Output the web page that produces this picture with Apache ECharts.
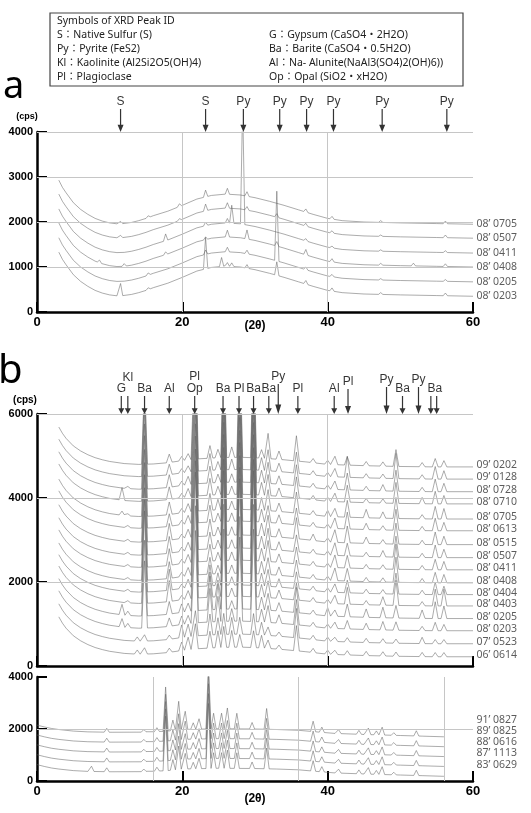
<!DOCTYPE html>
<html>
<head>
<meta charset="utf-8">
<title>XRD patterns</title>
<script src="https://cdn.jsdelivr.net/npm/echarts@6.0.0/dist/echarts.min.js"></script>
<style>
  html, body { margin: 0; padding: 0; background: #fff; }
  #main { width: 531px; height: 813px; }
</style>
</head>
<body>
<div id="main"></div>
<script>
// ---------- panel a : 6 patterns, 0-4000 cps ----------
const aNames = ['08’ 0705', '08’ 0507', '08’ 0411', '08’ 0408', '08’ 0205', '08’ 0203'];
const aLabelY = [1955, 1645, 1310, 1000, 665, 355];
const aOffsets = [1950, 1640, 1310, 1000, 670, 350];
// background shape (2θ, cps above the trace end)
const aBase = [[3, 980], [3.5, 820], [4, 700], [5, 480], [6, 330], [7, 220], [8, 130], [9, 70], [10, 30], [11, 10],
  [12, 15], [13, 40], [14, 80], [15, 130], [16, 190], [18, 290], [20, 420], [22, 560], [24, 640], [26, 670],
  [28, 650], [30, 590], [32, 510], [34, 420], [36, 320], [38, 220], [40, 130], [42, 80], [45, 50], [50, 30],
  [55, 15], [60, 0]];
const aPeakPos = [8.6, 11.5, 12.0, 15.3, 17.7, 19.6, 23.2, 25.4, 26.2, 26.8, 28.3, 28.9, 33.0, 37.0, 40.6, 47.3, 51.8, 56.2];
const aPeakH = [ // cps
  [0, 50, 0, 40, 0, 60, 150, 0, 130, 0, 0, 100, 0, 70, 60, 40, 0, 60],
  [0, 50, 0, 0, 0, 40, 150, 0, 120, 0, 0, 80, 80, 60, 50, 30, 0, 60],
  [0, 0, 0, 0, 150, 0, 80, 0, 100, 400, 2700, 0, 0, 50, 40, 30, 0, 40],
  [60, 0, 60, 0, 60, 0, 60, 0, 150, 0, 0, 200, 100, 120, 70, 40, 60, 60],
  [0, 0, 0, 50, 0, 0, 100, 0, 100, 0, 0, 80, 1550, 60, 50, 30, 0, 40],
  [0, 270, 0, 40, 0, 0, 700, 200, 80, 80, 0, 80, 300, 80, 70, 40, 0, 60]
];
const aArrowPos = [11.5, 23.2, 28.4, 33.4, 37.1, 40.8, 47.5, 56.4];
const aArrowText = ['S', 'S', 'Py', 'Py', 'Py', 'Py', 'Py', 'Py'];

// ---------- panel b (upper) : 16 patterns, 0-6000 cps ----------
const bNames = ['09’ 0202', '09’ 0128', '08’ 0728', '08’ 0710', '08’ 0705', '08’ 0613', '08’ 0515', '08’ 0507',
  '08’ 0411', '08’ 0408', '08’ 0404', '08’ 0403', '08’ 0205', '08’ 0203', '07’ 0523', '06’ 0614'];
const bLabelY = [4786, 4500, 4190, 3905, 3548, 3262, 2929, 2619, 2333, 2024, 1738, 1476, 1167, 881, 571, 262];
const bOffsets = [4740, 4450, 4150, 3860, 3500, 3220, 2890, 2580, 2290, 1980, 1700, 1430, 1130, 840, 530, 220];
const bBase = [[3, 950], [3.5, 800], [4, 680], [5, 500], [6, 380], [7, 290], [8, 220], [9, 170], [10, 130],
  [12, 80], [14, 60], [16, 70], [18, 100], [20, 150], [22, 190], [25, 220], [28, 230], [31, 210], [34, 170],
  [37, 120], [40, 60], [45, 30], [50, 10], [55, 0], [60, 0]];
const bPeakPos = [11.7, 12.5, 13.8, 14.8, 18.2, 19.9, 20.8, 21.8, 23.8, 24.9, 25.7, 26.8, 27.9, 29.8,
  30.9, 31.8, 33.3, 35.7, 38.0, 40.0, 41.0, 42.7, 45.3, 47.6, 49.4, 53.0, 54.8, 56.0];
const bPeakH = [ // x100 cps
  [0, 0, 0, 20, 2, 1, 1.5, 30, 3, 2, 30, 2.5, 28, 30, 2, 6, 2, 6, 1, 1, 2, 2, 1, 1, 4, 1, 2, 1.5],
  [0, 0, 0, 22, 2.5, 1, 1.5, 30, 4, 2, 30, 2.5, 28, 30, 3, 5, 2, 5, 1, 1, 2, 5, 1, 1, 6, 1, 3, 2],
  [0, 0.5, 0, 22, 3, 1, 2, 30, 4, 2, 30, 2, 28, 30, 3, 5, 2, 5, 1, 1, 2, 4, 1, 1.5, 5, 1, 3, 2],
  [3, 0, 0, 22, 3, 1, 2, 30, 4, 2, 30, 2, 28, 30, 3, 5, 2, 5, 1, 1, 2, 4, 1, 1, 5, 1.5, 3, 2],
  [1, 0.5, 0, 22, 3, 1, 2, 30, 4, 2.5, 30, 2, 28, 30, 3, 5, 2, 5, 1, 1.5, 2, 4, 2, 1.5, 5, 1, 3, 2.5],
  [0, 0.5, 0, 22, 3, 1, 2, 30, 4, 2, 30, 2, 28, 30, 3, 4, 2, 4, 1, 1, 2.5, 4, 1.5, 1, 5, 1, 3, 2],
  [0, 0.5, 0, 22, 4, 1, 2, 30, 4, 2, 30, 2, 28, 30, 3, 5, 2, 5, 1.5, 1, 3, 4, 1.5, 1, 5, 1, 3, 2],
  [0, 0.5, 0, 22, 4, 1, 2, 30, 4, 2, 30, 2, 28, 30, 3, 5, 2, 4, 1, 1, 3, 3, 1, 1.5, 5, 1, 3, 2],
  [0, 0.5, 0, 22, 4, 1, 2, 30, 4, 2, 30, 2, 28, 30, 3, 5, 2, 4, 1, 1, 3, 3, 1, 1, 6, 1, 2.5, 2],
  [0, 0.5, 0, 22, 4, 1, 2, 30, 4, 2, 30, 2, 28, 30, 3, 4, 2, 4, 1, 1, 3, 3, 1, 1, 6, 1, 2.5, 2],
  [0, 0.5, 0, 22, 5, 1, 2, 30, 5, 3, 30, 2, 28, 30, 3, 4, 2, 4, 1, 1, 2, 3, 1, 1, 5, 1, 3, 2],
  [0, 0.5, 0, 22, 5, 1, 2, 30, 6, 4, 30, 2, 28, 30, 3, 4, 2, 4, 1, 1, 2, 4, 1, 2, 6, 1, 4, 4],
  [2.5, 1, 0, 18, 3, 2, 2, 25, 8, 6, 25, 2, 22, 25, 3, 4, 2, 6, 1, 2, 1.5, 3, 2, 2.5, 3, 2, 4, 3],
  [2, 1, 0, 16, 2, 2, 2, 22, 8, 6, 22, 3, 20, 22, 3, 4, 2, 6, 1, 1, 1.5, 2, 1.5, 2, 2, 1, 2, 1.5],
  [0, 0, 1, 1.5, 1, 3, 3, 6, 5, 4, 5, 4, 4, 5, 3, 2, 1, 7, 1, 1, 1, 1, 1, 1, 1, 1.5, 1, 1],
  [0, 0, 1, 1.5, 1, 2, 3, 6, 4, 4, 5, 4, 3, 4, 3, 2, 1, 6, 1, 1, 1, 1, 1, 1, 1, 1, 1, 1]
];
const bArrowPos = [11.6, 12.5, 14.8, 18.2, 21.7, 25.6, 27.8, 29.8, 31.9, 33.2, 35.9, 40.9, 42.8, 48.1, 50.3, 52.5, 54.2, 55.0];
const bArrowText = ['G', 'Kl', 'Ba', 'Al', 'Pl\nOp', 'Ba', 'Pl', 'Ba', 'Ba', 'Py', 'Pl', 'Al', 'Pl', 'Py', 'Ba', 'Py', 'Ba', ''];

// ---------- panel b (lower) : 5 older patterns, 0-4000 cps ----------
const cNames = ['91’ 0827', '89’ 0825', '88’ 0616', '87’ 1113', '83’ 0629'];
const cLabelY = [2346, 1923, 1500, 1077, 615];
const cOffsets = [1700, 1320, 940, 560, 180];
const cBase = [[0, 450], [1, 380], [2, 320], [3, 280], [5, 220], [7, 190], [10, 175], [15, 180], [18, 220],
  [20, 280], [25, 310], [30, 300], [33, 280], [36, 250], [38, 200], [41, 130], [45, 90], [50, 50], [53, 25], [56, 0]];
const cPeakPos = [7.5, 9.6, 14.7, 16.5, 17.7, 18.7, 19.5, 20.4, 21.5, 22.3, 23.6, 24.3, 25.4, 26.2, 27.5,
  29.6, 31.6, 38.0, 39.2, 41.5, 44.3, 45.6, 46.7, 47.5, 49.1, 52.2];
const cPeakH = [ // x100 cps
  [0, 1.5, 1, 1.5, 17, 4, 11, 7, 2.5, 4, 25, 6, 6, 8, 6, 2.5, 8, 4, 2, 1.5, 1.5, 2.5, 1.5, 3, 1, 2],
  [0, 1.5, 1, 1.5, 18, 4, 10, 7, 2.5, 4, 25, 6, 6, 7, 6, 2.5, 8, 4, 2, 1.5, 1.5, 2.5, 1.5, 3, 1, 2],
  [0, 1.5, 1, 1.5, 19, 4, 10, 6, 2.5, 4, 25, 6, 6, 7, 6, 2.5, 8, 4, 2, 1.5, 1.5, 2.5, 1.5, 3, 1, 2],
  [0, 1.5, 1, 1.5, 20, 4, 9, 6, 2.5, 4, 25, 6, 6, 7, 6, 2.5, 8, 4, 2, 1.5, 1.5, 2.5, 1.5, 3, 1, 2],
  [2, 1.5, 1, 1.5, 21, 4, 9, 6, 2.5, 4, 25, 6, 6, 7, 6, 2.5, 8, 4, 2, 1.5, 1.5, 2.5, 1.5, 3, 1, 2]
];
const cGridX = [16, 36, 56];

// ---------- helpers ----------
function baseAt(profile, x) {
  if (x <= profile[0][0]) return profile[0][1];
  for (let i = 1; i < profile.length; i++) {
    if (x <= profile[i][0]) {
      const [x0, y0] = profile[i - 1], [x1, y1] = profile[i];
      return y0 + (y1 - y0) * (x - x0) / (x1 - x0);
    }
  }
  return profile[profile.length - 1][1];
}

// trace = offset + background + triangular peaks (peak half width w)
function buildTrace(profile, offset, pos, heights, unit, w) {
  const lo = profile[0][0], hi = profile[profile.length - 1][0];
  const xs = new Set(profile.map(p => p[0]));
  pos.forEach((p, i) => {
    if (heights[i] > 0) [p - w, p, p + w].forEach(x => { if (x >= lo && x <= hi) xs.add(+x.toFixed(3)); });
  });
  return [...xs].sort((a, b) => a - b).map(x => {
    let v = offset + baseAt(profile, x);
    pos.forEach((p, i) => {
      const d = Math.abs(x - p);
      if (heights[i] > 0 && d < w) v += heights[i] * unit * (1 - d / w);
    });
    return [x, Math.round(v)];
  });
}

const lineColor = 'rgba(95,95,95,0.62)';
const arrowPath = 'path://M2.4,0 L3.6,0 L3.6,15 L6,15 L3,22 L0,15 L2.4,15 Z';

function xAxisFor(gi, showLabel) {
  return {
    type: 'value', gridIndex: gi, min: 0, max: 60, interval: 20,
    axisLine: { show: true, onZero: false, lineStyle: { color: '#000', width: 2.5 } },
    axisTick: { show: true, inside: true, length: 10, lineStyle: { color: '#000', width: 2 } },
    axisLabel: { show: showLabel, color: '#000', fontWeight: 'bold', fontSize: 13, fontFamily: 'Liberation Sans',
      margin: 4, formatter: v => String(v) },
    splitLine: { show: false }
  };
}
function yAxisFor(gi, max, interval) {
  return {
    type: 'value', gridIndex: gi, min: 0, max: max, interval: interval,
    axisLine: { show: true, onZero: false, lineStyle: { color: '#000', width: 2.5 } },
    axisTick: { show: true, inside: true, length: 10, lineStyle: { color: '#000', width: 2 } },
    axisLabel: { color: '#000', fontWeight: 'bold', fontSize: 11, fontFamily: 'Liberation Sans', margin: 4,
      formatter: v => String(v) },
    splitLine: { show: false }
  };
}

function gridLines(gi, marks) {
  return {
    type: 'line', xAxisIndex: gi, yAxisIndex: gi, data: [], silent: true,
    markLine: {
      silent: true, symbol: ['none', 'none'], label: { show: false }, animation: false,
      lineStyle: { color: '#c6c6c6', width: 1, type: 'solid' },
      data: marks
    }
  };
}

function traceSeries(gi, names, offsets, profile, pos, H, unit, w) {
  return names.map((n, k) => ({
    type: 'line', name: n, xAxisIndex: gi, yAxisIndex: gi,
    showSymbol: false, symbol: 'none', clip: true, silent: true,
    lineStyle: { color: lineColor, width: 0.85 },
    data: buildTrace(profile, offsets[k], pos, H[k], unit, w)
  }));
}

function nameSeries(gi, names, ys) {
  return {
    type: 'scatter', xAxisIndex: gi, yAxisIndex: gi, clip: false, silent: true,
    symbolSize: 1, itemStyle: { color: 'rgba(0,0,0,0)' },
    label: { show: true, position: 'right', distance: 3, formatter: '{b}', color: '#333',
      fontSize: 10.5, fontFamily: 'Noto Sans' },
    data: names.map((n, k) => ({ name: n, value: [60, ys[k]] }))
  };
}

function arrowSeries(gi, top, pos, text, lenFn, offFn) {
  return {
    type: 'scatter', xAxisIndex: gi, yAxisIndex: gi, clip: false, silent: true,
    symbol: arrowPath, itemStyle: { color: '#000' },
    label: { show: true, position: 'top', distance: 1, formatter: '{b}', color: '#000',
      fontSize: 12, lineHeight: 12, fontFamily: 'Liberation Sans' },
    data: pos.map((p, k) => ({
      name: text[k], value: [p, top],
      symbolSize: [6, lenFn(k)], symbolOffset: [0, '-50%'],
      label: { offset: offFn(k) }
    }))
  };
}

// ---------- chart ----------
const chart = echarts.init(document.getElementById('main'), null, { renderer: 'canvas' });

const legendFont = { fontSize: 10.5, fontFamily: '"Noto Sans", "Noto Sans CJK JP"', fill: '#222', verticalAlign: 'middle' };
const legendLeft = ['Symbols of XRD Peak ID', 'S：Native Sulfur (S)', 'Py：Pyrite (FeS2)', 'Kl：Kaolinite (Al2Si2O5(OH)4)', 'Pl：Plagioclase'];
const legendRight = ['G：Gypsum (CaSO4・2H2O)', 'Ba：Barite (CaSO4・0.5H2O)', 'Al：Na- Alunite(NaAl3(SO4)2(OH)6))', 'Op：Opal (SiO2・xH2O)'];

const graphic = [
  { type: 'rect', shape: { x: 50, y: 13, width: 413, height: 73 }, style: { fill: '#fff', stroke: '#444', lineWidth: 1.2 } }
];
legendLeft.forEach((t, i) => graphic.push({ type: 'text', x: 57, y: 21 + i * 14, style: Object.assign({ text: t }, legendFont) }));
legendRight.forEach((t, i) => graphic.push({ type: 'text', x: 269, y: 35 + i * 14, style: Object.assign({ text: t }, legendFont) }));
graphic.push(
  { type: 'text', x: 3, y: 106, style: { text: 'a', fontSize: 38, fontFamily: 'Noto Sans', fill: '#000', verticalAlign: 'bottom' } },
  { type: 'text', x: -2, y: 392, style: { text: 'b', fontSize: 40, fontFamily: 'Noto Sans', fill: '#000', verticalAlign: 'bottom' } },
  { type: 'text', x: 27, y: 117, style: { text: '(cps)', fontSize: 9, fontWeight: 'bold', fontFamily: 'Liberation Sans', fill: '#000', align: 'center', verticalAlign: 'middle' } },
  { type: 'text', x: 25, y: 400, style: { text: '(cps)', fontSize: 10, fontWeight: 'bold', fontFamily: 'Liberation Sans', fill: '#000', align: 'center', verticalAlign: 'middle' } },
  { type: 'text', x: 255, y: 326, style: { text: '(2θ)', fontSize: 12, fontWeight: 'bold', fontFamily: 'Liberation Sans', fill: '#000', align: 'center', verticalAlign: 'middle' } },
  { type: 'text', x: 255, y: 799, style: { text: '(2θ)', fontSize: 12, fontWeight: 'bold', fontFamily: 'Liberation Sans', fill: '#000', align: 'center', verticalAlign: 'middle' } }
);

const bLen = k => ({ 9: 30, 12: 25, 13: 27, 15: 27 }[k] || 18);
const bOff = k => (k === 1 ? [0, -11] : k === 16 ? [4, 0] : [0, 0]);

chart.setOption({
  animation: false,
  backgroundColor: '#fff',
  grid: [
    { left: 37, top: 132, width: 436, height: 180, containLabel: false, outerBoundsMode: 'none' },
    { left: 37, top: 414, width: 436, height: 252, containLabel: false, outerBoundsMode: 'none' },
    { left: 37, top: 677, width: 436, height: 104, containLabel: false, outerBoundsMode: 'none' }
  ],
  xAxis: [xAxisFor(0, true), xAxisFor(1, false), xAxisFor(2, true)],
  yAxis: [yAxisFor(0, 4000, 1000), yAxisFor(1, 6000, 2000), yAxisFor(2, 4000, 2000)],
  graphic: graphic,
  series: [
    gridLines(0, [{ xAxis: 20 }, { xAxis: 40 }, { yAxis: 1000 }, { yAxis: 2000 }, { yAxis: 3000 }, { yAxis: 4000 }]),
    gridLines(1, [{ xAxis: 20 }, { xAxis: 40 }, { yAxis: 2000 }, { yAxis: 4000 }, { yAxis: 6000 }]),
    gridLines(2, cGridX.map(v => ({ xAxis: v })).concat([{ yAxis: 2000 }])),
    ...traceSeries(0, aNames, aOffsets, aBase, aPeakPos, aPeakH, 1, 0.3),
    ...traceSeries(1, bNames, bOffsets, bBase, bPeakPos, bPeakH, 100, 0.4),
    ...traceSeries(2, cNames, cOffsets, cBase, cPeakPos, cPeakH, 100, 0.35),
    nameSeries(0, aNames, aLabelY),
    nameSeries(1, bNames, bLabelY),
    nameSeries(2, cNames, cLabelY),
    arrowSeries(0, 4000, aArrowPos, aArrowText, () => 23, () => [0, 0]),
    arrowSeries(1, 6000, bArrowPos, bArrowText, bLen, bOff)
  ]
});
</script>
</body>
</html>
